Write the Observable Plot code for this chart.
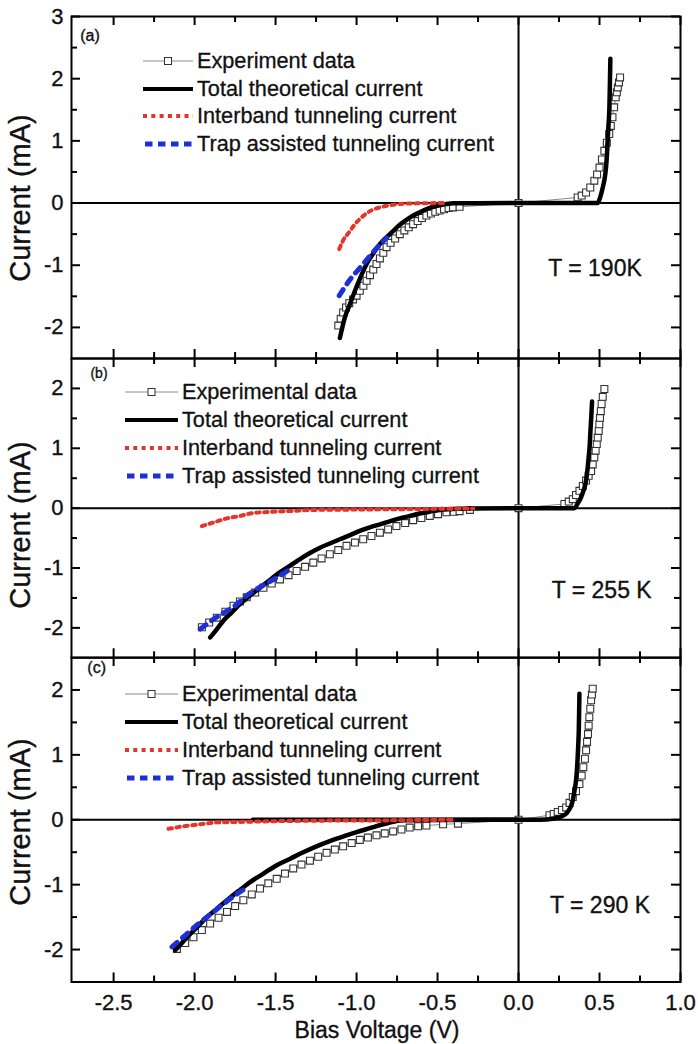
<!DOCTYPE html>
<html>
<head>
<meta charset="utf-8">
<script src="https://cdn.jsdelivr.net/npm/d3@7"></script>
<script src="https://cdn.jsdelivr.net/npm/@observablehq/plot@0.6"></script>
<style>
  body { margin: 0; background: #fff; }
  #fig { position: relative; width: 698px; height: 1044px; background: #fff;
         font-family: "Liberation Sans", Arial, Helvetica, sans-serif; color: #111; overflow: hidden; }
  #fig > svg { position: absolute; left: 0; }
  .txt { position: absolute; white-space: nowrap; line-height: 1; -webkit-text-stroke: 0.35px #111; }
  .legend { position: absolute; -webkit-text-stroke: 0.3px #111; }
  .legend .row { position: absolute; left: 0; white-space: nowrap; display: flex; align-items: center; transform: translateY(-50%); }
  #fig .legend svg { position: static; display: block; margin-right: 4px; }
</style>
</head>
<body>
<div id="fig"></div>
<script>
// ---- axis ticks ----
const xMajor = [-2.5, -2, -1.5, -1, -0.5, 0, 0.5, 1];
const xMinor = [-2.25, -1.75, -1.25, -0.75, -0.25, 0.25, 0.75];
const yMajorA = [-2, -1, 0, 1, 2, 3];
const yMinorA = [-1.5, -0.5, 0.5, 1.5, 2.5];
const yMajorBC = [-2, -1, 0, 1, 2];
const yMinorBC = [-1.5, -0.5, 0.5, 1.5];

// ---- (a) T = 190 K : [bias V, current mA] ----
const expA = [[-1.113,-1.97],[-1.098,-1.86],[-1.083,-1.76],[-1.065,-1.68],[-1.045,-1.61],[-1.022,-1.55],[-1.0,-1.49],[-0.98,-1.41],[-0.958,-1.33],[-0.938,-1.25],[-0.917,-1.16],[-0.897,-1.07],[-0.877,-0.98],[-0.856,-0.89],[-0.835,-0.80],[-0.815,-0.71],[-0.79,-0.64],[-0.762,-0.57],[-0.733,-0.50],[-0.705,-0.44],[-0.678,-0.39],[-0.651,-0.34],[-0.623,-0.29],[-0.596,-0.24],[-0.569,-0.20],[-0.541,-0.17],[-0.514,-0.14],[-0.487,-0.12],[-0.46,-0.10],[-0.432,-0.08],[-0.405,-0.07],[-0.364,-0.06],[0,0],[0.365,0.09],[0.39,0.12],[0.417,0.17],[0.443,0.25],[0.468,0.36],[0.485,0.46],[0.5,0.57],[0.515,0.70],[0.53,0.84],[0.545,0.97],[0.56,1.11],[0.57,1.24],[0.58,1.38],[0.59,1.54],[0.60,1.70],[0.607,1.78],[0.613,1.86],[0.62,1.94],[0.627,2.02]];
const theoA = [[-1.103,-2.17],[-1.088,-2.0],[-1.072,-1.84],[-1.04,-1.62],[-1.01,-1.41],[-0.975,-1.19],[-0.938,-0.98],[-0.897,-0.81],[-0.856,-0.66],[-0.815,-0.55],[-0.774,-0.45],[-0.733,-0.35],[-0.692,-0.27],[-0.65,-0.20],[-0.61,-0.15],[-0.57,-0.10],[-0.528,-0.06],[-0.487,-0.035],[-0.445,-0.016],[-0.40,-0.005],[0,0],[0.489,0],[0.505,0.10],[0.52,0.25],[0.532,0.40],[0.54,0.57],[0.546,0.78],[0.55,1.0],[0.556,1.27],[0.561,1.54],[0.564,1.9],[0.567,2.32]];
const interA = [[-1.107,-0.74],[-1.083,-0.60],[-1.046,-0.47],[-1.01,-0.34],[-0.96,-0.21],[-0.91,-0.12],[-0.856,-0.07],[-0.805,-0.04],[-0.73,-0.016],[-0.63,-0.005],[-0.45,0]];
const trapA = [[-1.107,-1.49],[-1.046,-1.25],[-0.975,-1.03],[-0.898,-0.79],[-0.815,-0.56]];

// ---- (b) T = 255 K ----
const expB = [[-1.955,-1.99],[-1.91,-1.91],[-1.863,-1.83],[-1.81,-1.73],[-1.76,-1.63],[-1.72,-1.56],[-1.678,-1.49],[-1.626,-1.41],[-1.575,-1.33],[-1.524,-1.26],[-1.473,-1.19],[-1.42,-1.12],[-1.37,-1.05],[-1.318,-0.98],[-1.267,-0.91],[-1.216,-0.84],[-1.165,-0.77],[-1.113,-0.70],[-1.062,-0.63],[-1.01,-0.575],[-0.959,-0.52],[-0.908,-0.465],[-0.856,-0.41],[-0.805,-0.355],[-0.754,-0.30],[-0.70,-0.25],[-0.651,-0.20],[-0.60,-0.165],[-0.548,-0.13],[-0.497,-0.10],[-0.445,-0.07],[-0.40,-0.06],[-0.364,-0.05],[-0.30,-0.03],[0,0],[0.283,0.07],[0.31,0.11],[0.335,0.15],[0.355,0.22],[0.376,0.29],[0.397,0.37],[0.417,0.46],[0.433,0.54],[0.448,0.62],[0.458,0.73],[0.468,0.85],[0.476,0.96],[0.483,1.07],[0.489,1.18],[0.495,1.29],[0.499,1.40],[0.503,1.51],[0.508,1.62],[0.513,1.74],[0.52,1.86],[0.53,1.99]];
const theoB = [[-1.904,-2.16],[-1.862,-2.02],[-1.822,-1.88],[-1.77,-1.74],[-1.719,-1.60],[-1.658,-1.46],[-1.596,-1.33],[-1.535,-1.20],[-1.473,-1.07],[-1.41,-0.96],[-1.349,-0.85],[-1.288,-0.75],[-1.226,-0.66],[-1.165,-0.59],[-1.103,-0.52],[-1.04,-0.45],[-0.98,-0.38],[-0.918,-0.32],[-0.856,-0.27],[-0.795,-0.22],[-0.733,-0.17],[-0.67,-0.13],[-0.61,-0.09],[-0.55,-0.06],[-0.487,-0.03],[-0.425,-0.017],[-0.364,-0.01],[-0.3,-0.004],[0,0],[0.345,0],[0.366,0.08],[0.386,0.18],[0.402,0.30],[0.417,0.46],[0.426,0.65],[0.433,0.85],[0.44,1.07],[0.444,1.29],[0.449,1.52],[0.454,1.78]];
const interB = [[-1.955,-0.30],[-1.884,-0.24],[-1.80,-0.17],[-1.719,-0.13],[-1.637,-0.08],[-1.514,-0.06],[-1.39,-0.045],[-1.267,-0.03],[-1.06,-0.025],[-0.856,-0.02],[-0.65,-0.015],[-0.445,-0.01],[-0.28,-0.005]];
const trapB = [[-1.965,-2.02],[-1.853,-1.80],[-1.76,-1.65],[-1.678,-1.46],[-1.585,-1.30],[-1.493,-1.16],[-1.411,-1.02]];

// ---- (c) T = 290 K ----
const expC = [[-2.109,-1.99],[-2.058,-1.90],[-2.007,-1.81],[-1.955,-1.70],[-1.904,-1.60],[-1.852,-1.51],[-1.80,-1.42],[-1.75,-1.33],[-1.699,-1.24],[-1.647,-1.15],[-1.596,-1.06],[-1.545,-0.98],[-1.493,-0.91],[-1.442,-0.83],[-1.391,-0.75],[-1.34,-0.69],[-1.288,-0.63],[-1.237,-0.57],[-1.185,-0.51],[-1.134,-0.46],[-1.083,-0.41],[-1.03,-0.36],[-0.98,-0.31],[-0.93,-0.275],[-0.877,-0.24],[-0.826,-0.21],[-0.774,-0.18],[-0.723,-0.15],[-0.672,-0.12],[-0.62,-0.10],[-0.569,-0.09],[-0.466,-0.07],[-0.374,-0.06],[0,0],[0.191,0.07],[0.217,0.09],[0.242,0.12],[0.268,0.15],[0.294,0.19],[0.315,0.26],[0.335,0.35],[0.355,0.44],[0.376,0.55],[0.39,0.68],[0.40,0.81],[0.41,0.94],[0.417,1.07],[0.423,1.20],[0.429,1.32],[0.433,1.45],[0.437,1.58],[0.443,1.71],[0.448,1.84],[0.453,1.93],[0.458,2.02]];
const theoC = [[-2.12,-2.01],[-2.075,-1.89],[-2.027,-1.76],[-1.975,-1.63],[-1.924,-1.50],[-1.862,-1.37],[-1.80,-1.24],[-1.73,-1.10],[-1.657,-0.96],[-1.575,-0.83],[-1.493,-0.70],[-1.41,-0.60],[-1.329,-0.50],[-1.247,-0.41],[-1.165,-0.33],[-1.083,-0.26],[-1.0,-0.19],[-0.918,-0.13],[-0.836,-0.07],[-0.795,-0.045],[-0.754,-0.02],[-0.7,-0.008],[0,0],[0.13,0],[0.22,0.02],[0.265,0.05],[0.30,0.11],[0.322,0.2],[0.335,0.30],[0.345,0.44],[0.355,0.61],[0.361,0.78],[0.365,0.96],[0.369,1.17],[0.372,1.38],[0.374,1.65],[0.376,1.94]];
const theoFlatC = [[-1.64,0],[0,0]];
const interC = [[-2.161,-0.14],[-2.115,-0.12],[-2.069,-0.10],[-2.018,-0.085],[-1.966,-0.07],[-1.915,-0.055],[-1.863,-0.04],[-1.76,-0.035],[-1.657,-0.03],[-1.45,-0.02],[-1.247,-0.015],[-1.04,-0.01],[-0.836,-0.01],[-0.62,-0.005],[-0.41,0]];
const trapC = [[-2.14,-1.96],[-2.058,-1.78],[-1.966,-1.58],[-1.873,-1.40],[-1.781,-1.22],[-1.688,-1.06]];

// ---- text ----
const legendA = ["Experiment data", "Total theoretical current", "Interband tunneling current", "Trap assisted tunneling current"];
const legendBC = ["Experimental data", "Total theoretical current", "Interband tunneling current", "Trap assisted tunneling current"];
const xLabel = "Bias Voltage (V)";
const yLabel = "Current (mA)";

// ---- styling ----
const FONT = '"Liberation Sans", Arial, Helvetica, sans-serif';
const W = 698, FL = 71, FR = 680;
const xDomain = [-2.76, 1.0];
const RED = "#e3352b", BLUE = "#1c2fd8", INK = "#111";

const fig = document.getElementById("fig");

function panel(cfg) {
  const mt = 14, mb = cfg.xAxis ? 80 : 14;
  const innerH = cfg.bottom - cfg.top;
  const innerW = FR - FL;
  const X = d => d[0], Y = d => d[1];
  const marks = [
    // zero lines
    Plot.ruleY([0], {stroke: "#000", strokeWidth: 2}),
    Plot.ruleX([0], {stroke: "#000", strokeWidth: 2}),
    // inward ticks on all four sides
    Plot.ruleX(xMajor, {stroke: "#000", strokeWidth: 2, insetBottom: innerH - 9}),
    Plot.ruleX(xMajor, {stroke: "#000", strokeWidth: 2, insetTop: innerH - 9}),
    Plot.ruleX(xMinor, {stroke: "#000", strokeWidth: 2, insetBottom: innerH - 6}),
    Plot.ruleX(xMinor, {stroke: "#000", strokeWidth: 2, insetTop: innerH - 6}),
    Plot.ruleY(cfg.yMajor, {stroke: "#000", strokeWidth: 2, insetRight: innerW - 9}),
    Plot.ruleY(cfg.yMajor, {stroke: "#000", strokeWidth: 2, insetLeft: innerW - 9}),
    Plot.ruleY(cfg.yMinor, {stroke: "#000", strokeWidth: 2, insetRight: innerW - 6}),
    Plot.ruleY(cfg.yMinor, {stroke: "#000", strokeWidth: 2, insetLeft: innerW - 6}),
    // y tick labels
    Plot.text(cfg.yMajor, {y: d => d, frameAnchor: "left", dx: -8, textAnchor: "end",
      text: d => String(d), fontSize: 22, fill: INK, stroke: INK, strokeWidth: 0.35}),
    // experimental data: thin grey line with open squares
    Plot.line(cfg.exp, {x: X, y: Y, stroke: "#8a8a8a", strokeWidth: 1}),
    Plot.dot(cfg.exp, {x: X, y: Y, symbol: "square", r: 3.9, fill: "#fff", stroke: "#333", strokeWidth: 1.1}),
    // total theoretical current
    ...(cfg.theoFlat ? [Plot.line(cfg.theoFlat, {x: X, y: Y, stroke: "#000", strokeWidth: 4.5})] : []),
    Plot.line(cfg.theo, {x: X, y: Y, stroke: "#000", strokeWidth: 4.5, curve: "monotone-x"}),
    // interband tunneling (dotted) and trap assisted tunneling (dashed)
    Plot.line(cfg.inter, {x: X, y: Y, stroke: RED, strokeWidth: 4, strokeDasharray: "3.5,4.5", curve: "monotone-x"}),
    Plot.line(cfg.trap, {x: X, y: Y, stroke: BLUE, strokeWidth: 5, strokeDasharray: "7,7", curve: "monotone-x"}),
    Plot.frame({stroke: "#000", strokeWidth: 2})
  ];
  if (cfg.xAxis) {
    marks.push(Plot.text(xMajor, {x: d => d, frameAnchor: "bottom", dy: 12, lineAnchor: "top",
      text: d => d.toFixed(1), fontSize: 22, fill: INK, stroke: INK, strokeWidth: 0.35}));
  }
  const svg = Plot.plot({
    width: W,
    height: innerH + mt + mb,
    marginLeft: FL, marginRight: W - FR, marginTop: mt, marginBottom: mb,
    x: {domain: xDomain, axis: null},
    y: {domain: cfg.yDomain, axis: null},
    style: {fontFamily: FONT, background: "transparent", overflow: "visible"},
    marks
  });
  svg.style.top = (cfg.top - mt).toFixed(1) + "px";
  fig.appendChild(svg);

  // panel letter, temperature, y label
  addText(cfg.letter, cfg.letterPos[0], cfg.letterPos[1], cfg.letterSize);
  addText(cfg.temp, cfg.tempPos[0], cfg.tempPos[1], 23);
  const yl = addText(yLabel, 20, cfg.ylabY, 29);
  yl.style.transform = "translate(-50%, -50%) rotate(-90deg)";

  // legend
  const lg = document.createElement("div");
  lg.className = "legend";
  lg.style.left = cfg.legend.x + "px";
  lg.style.top = cfg.legend.y + "px";
  cfg.legend.labels.forEach((label, i) => {
    const row = document.createElement("div");
    row.className = "row";
    row.style.top = (i * cfg.legend.step) + "px";
    row.innerHTML = sample(i, cfg.legend.w) + `<span style="font-size:21.7px">${label}</span>`;
    lg.appendChild(row);
  });
  fig.appendChild(lg);
}

function addText(s, x, y, size) {
  const d = document.createElement("div");
  d.className = "txt";
  d.textContent = s;
  d.style.fontSize = size + "px";
  d.style.left = x + "px";
  d.style.top = y + "px";
  d.style.transform = "translate(-50%, -50%)";
  fig.appendChild(d);
  return d;
}

function sample(i, w) {
  const h = 12, m = h / 2;
  let inner = "";
  if (i === 0) inner = `<line x1="0" y1="${m}" x2="${w}" y2="${m}" stroke="#8a8a8a" stroke-width="1"/><rect x="${w/2-3.5}" y="${m-3.5}" width="7" height="7" fill="#fff" stroke="#333"/>`;
  if (i === 1) inner = `<line x1="0" y1="${m}" x2="${w}" y2="${m}" stroke="#000" stroke-width="4"/>`;
  if (i === 2) inner = `<line x1="0" y1="${m}" x2="${w}" y2="${m}" stroke="${RED}" stroke-width="4" stroke-dasharray="4,4.3"/>`;
  if (i === 3) inner = `<line x1="2" y1="${m}" x2="${w}" y2="${m}" stroke="${BLUE}" stroke-width="5" stroke-dasharray="7.5,5.5"/>`;
  return `<svg width="${w}" height="${h}" viewBox="0 0 ${w} ${h}">${inner}</svg>`;
}

panel({
  top: 15.7, bottom: 357.7, yDomain: [-2.5, 3], yMajor: yMajorA, yMinor: yMinorA,
  exp: expA, theo: theoA, inter: interA, trap: trapA,
  letter: "(a)", letterPos: [90, 35.5], letterSize: 16,
  temp: "T = 190K", tempPos: [595, 268],
  ylabY: 198,
  legend: {x: 143, y: 61, step: 27.7, w: 50, labels: legendA}
});
panel({
  top: 357.7, bottom: 657, yDomain: [-2.5, 2.5], yMajor: yMajorBC, yMinor: yMinorBC,
  exp: expB, theo: theoB, inter: interB, trap: trapB,
  letter: "(b)", letterPos: [99, 373], letterSize: 14,
  temp: "T = 255 K", tempPos: [601.7, 590],
  ylabY: 525,
  legend: {x: 125, y: 392, step: 28, w: 53, labels: legendBC}
});
panel({
  top: 657, bottom: 981.5, yDomain: [-2.5, 2.5], yMajor: yMajorBC, yMinor: yMinorBC,
  exp: expC, theo: theoC, theoFlat: theoFlatC, inter: interC, trap: trapC,
  letter: "(c)", letterPos: [96.7, 668], letterSize: 16,
  temp: "T = 290 K", tempPos: [600, 905],
  ylabY: 822,
  legend: {x: 125, y: 694, step: 27.9, w: 53, labels: legendBC},
  xAxis: true
});

addText(xLabel, 377, 1030, 23);
</script>
</body>
</html>
